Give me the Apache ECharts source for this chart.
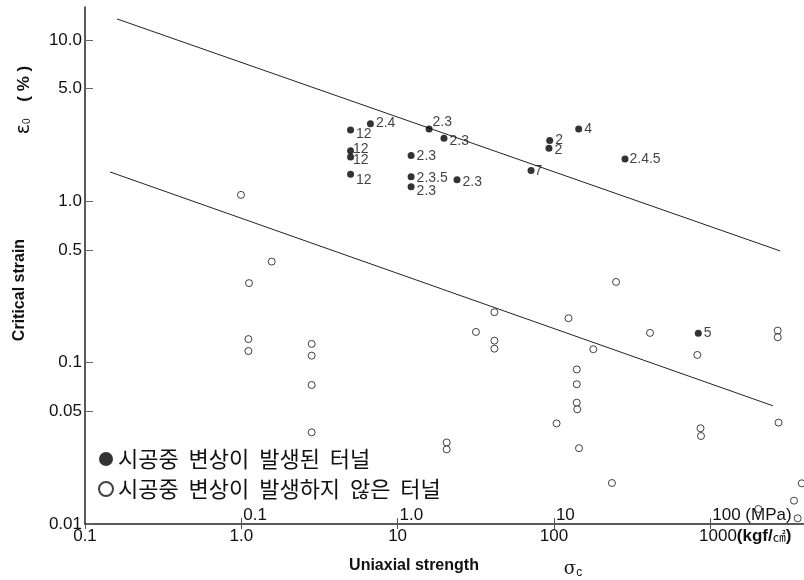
<!DOCTYPE html>
<html>
<head>
<meta charset="utf-8">
<script src="https://cdn.jsdelivr.net/npm/echarts@6/dist/echarts.min.js"></script>
<style>
  html, body { margin: 0; padding: 0; background: #fff; }
  #main { width: 804px; height: 580px; }
</style>
</head>
<body>
<div id="main"></div>
<script>
// axis ticks
const yTicks = [0.01, 0.05, 0.1, 0.5, 1, 5, 10];
const yTickLabels = ['0.01', '0.05', '0.1', '0.5', '1.0', '5.0', '10.0'];
const kgfTicks = [0.1, 1, 10, 100, 1000];
const kgfTickLabels = ['0.1', '1.0', '10', '100', '1000'];
const mpaTicks = [1, 10, 100, 1000];
const mpaTickLabels = ['0.1', '1.0', '10', '100 (MPa)'];

// 시공중 변상이 발생된 터널 (filled) - strength kgf/cm2, strain %
const failStrength = [5.0, 6.7, 15.9, 19.8, 5.0, 5.0, 12.2, 5.0, 12.2, 12.2, 24.0, 71.4, 94, 93, 144, 285, 839];
const failStrain = [2.77, 3.02, 2.81, 2.46, 2.06, 1.88, 1.92, 1.47, 1.42, 1.23, 1.36, 1.55, 2.38, 2.13, 2.81, 1.83, 0.152];
const failCode = ['12', '2.4', '2.3', '2.3', '12', '12', '2.3', '12', '2.3.5', '2.3', '2.3', '7', '2', '2', '4', '2.4.5', '5'];
const labelNudge = [[0, 4], [0, -1], [-2, -7], [0, 3], [-3, -2], [-3, 3], [0, 1], [0, 6], [0, 1], [0, 4], [0, 2], [-2, 1], [0, 0], [0, 2], [0, 0], [-1, 0], [0, 0]];

// 시공중 변상이 발생하지 않은 터널 (open)
const okStrength = [0.995, 1.565, 1.12, 1.11, 1.11, 2.82, 2.82, 2.82, 2.82, 20.6, 20.6, 31.7,
  41.6, 41.6, 41.6, 124, 178.7, 249.7, 412, 827, 2703, 2703, 140, 140, 140, 141, 104, 144.7,
  235, 867, 873, 2735, 2032, 3437, 3628, 3850];
const okStrain = [1.096, 0.423, 0.311, 0.140, 0.118, 0.1306, 0.1105, 0.0727, 0.0370, 0.0320, 0.0290, 0.155,
  0.2054, 0.1369, 0.1221, 0.1885, 0.1211, 0.3164, 0.1528, 0.1116, 0.158, 0.1437, 0.0908, 0.0735, 0.0565, 0.0514, 0.0420, 0.0295,
  0.01795, 0.0392, 0.0351, 0.0425, 0.01239, 0.01395, 0.01085, 0.01787];

// boundary lines
const upperLineX = [0.160, 2800];
const upperLineY = [13.5, 0.4925];
const lowerLineX = [0.1445, 2522];
const lowerLineY = [1.52, 0.054];

const failName = '시공중 변상이 발생된 터널';
const okName = '시공중 변상이 발생하지 않은 터널';

function pickLabel(ticks, labels, v) {
  for (let i = 0; i < ticks.length; i++) {
    if (Math.abs(Math.log10(v) - Math.log10(ticks[i])) < 1e-6) return labels[i];
  }
  return '';
}

const chart = echarts.init(document.getElementById('main'));

chart.setOption({
  animation: false,
  textStyle: {fontFamily: 'Liberation Sans'},
  grid: {left: 85, right: 0, top: 7, bottom: 56, outerBoundsMode: 'none'},
  legend: {
    orient: 'vertical', left: 93, top: 443, itemWidth: 14, itemHeight: 14, itemGap: 8,
    selectedMode: false,
    formatter: name => name.replace(/ /g, '  '),
    textStyle: {fontSize: 22, fontFamily: 'Noto Sans CJK KR', color: '#111'},
    data: [{name: failName, icon: 'circle'}, {name: okName, icon: 'circle'}]
  },
  xAxis: [
    {
      type: 'log', min: 0.1, max: 3981,
      axisLine: {lineStyle: {color: '#222', width: 1.5}},
      axisTick: {show: true, inside: false, length: 5, customValues: kgfTicks, lineStyle: {color: '#555'}},
      axisLabel: {
        margin: 4, fontSize: 17, color: '#111', customValues: kgfTicks,
        formatter: v => {
          const s = pickLabel(kgfTicks, kgfTickLabels, v);
          return v >= 999 ? '{sp| }' + s + '{u|(kgf/}{m|㎠}{u|)}' : s;
        },
        rich: {
          sp: {width: 70},
          u: {fontSize: 17, fontWeight: 'bold', color: '#111'},
          m: {fontSize: 13, color: '#111', fontFamily: 'Noto Sans CJK KR'}
        }
      },
      splitLine: {show: false}
    },
    {
      type: 'log', min: 0.1, max: 3981, position: 'bottom',
      axisLine: {show: false},
      axisTick: {show: true, inside: true, length: 6, customValues: mpaTicks, lineStyle: {color: '#555'}},
      axisLabel: {
        inside: true, margin: 0, fontSize: 17, color: '#111', align: 'left', padding: [0, 0, 0, 2],
        customValues: mpaTicks,
        formatter: v => pickLabel(mpaTicks, mpaTickLabels, v)
      },
      splitLine: {show: false}
    }
  ],
  yAxis: {
    type: 'log', min: 0.01, max: 16,
    axisLine: {show: true, lineStyle: {color: '#222', width: 1.5}},
    axisTick: {show: true, inside: true, length: 8, customValues: yTicks, lineStyle: {color: '#666'}},
    axisLabel: {
      margin: 3, fontSize: 17, color: '#111', customValues: yTicks,
      formatter: v => pickLabel(yTicks, yTickLabels, v)
    },
    splitLine: {show: false}
  },
  graphic: [
    {type: 'text', x: 20, y: 290, rotation: Math.PI / 2,
      style: {text: 'Critical strain', fontSize: 16, fontWeight: 'bold', fontFamily: 'Liberation Sans',
        fill: '#111', align: 'center', verticalAlign: 'middle'}},
    {type: 'text', x: 24, y: 100, rotation: Math.PI / 2,
      style: {text: '{e|ε}{s|0}     {p|( % )}', align: 'center', verticalAlign: 'middle',
        rich: {
          e: {fontSize: 19, fontFamily: 'DejaVu Sans', fill: '#111'},
          s: {fontSize: 10, fill: '#111', padding: [6, 0, 0, 0]},
          p: {fontSize: 17, fontWeight: 'bold', fill: '#111', fontFamily: 'Liberation Sans'}
        }}},
    {type: 'text', x: 414, y: 566,
      style: {text: 'Uniaxial strength', fontSize: 16, fontWeight: 'bold', fontFamily: 'Liberation Sans',
        fill: '#111', align: 'center', verticalAlign: 'middle'}},
    {type: 'text', x: 573, y: 569,
      style: {text: '{a|σ}{b|c}', align: 'center', verticalAlign: 'middle',
        rich: {
          a: {fontSize: 18, fontFamily: 'DejaVu Serif', fill: '#111'},
          b: {fontSize: 12, fill: '#111', padding: [7, 0, 0, 0], fontFamily: 'Liberation Sans'}
        }}}
  ],
  series: [
    {
      type: 'line', data: upperLineX.map((x, i) => [x, upperLineY[i]]),
      symbol: 'none', silent: true, z: 1, lineStyle: {color: '#222', width: 1}
    },
    {
      type: 'line', data: lowerLineX.map((x, i) => [x, lowerLineY[i]]),
      symbol: 'none', silent: true, z: 1, lineStyle: {color: '#222', width: 1}
    },
    {
      name: okName, type: 'scatter', z: 3, symbolSize: 7,
      itemStyle: {color: '#fff', borderColor: '#111', borderWidth: 1},
      data: okStrength.map((x, i) => [x, okStrain[i]])
    },
    {
      name: failName, type: 'scatter', z: 4, symbolSize: 7,
      itemStyle: {color: '#000'},
      label: {
        show: true, position: 'right', distance: 2, fontSize: 14, color: '#111',
        formatter: p => failCode[p.dataIndex]
      },
      data: failStrength.map((x, i) => ({value: [x, failStrain[i]], label: {offset: labelNudge[i]}}))
    }
  ]
});
</script>
</body>
</html>
